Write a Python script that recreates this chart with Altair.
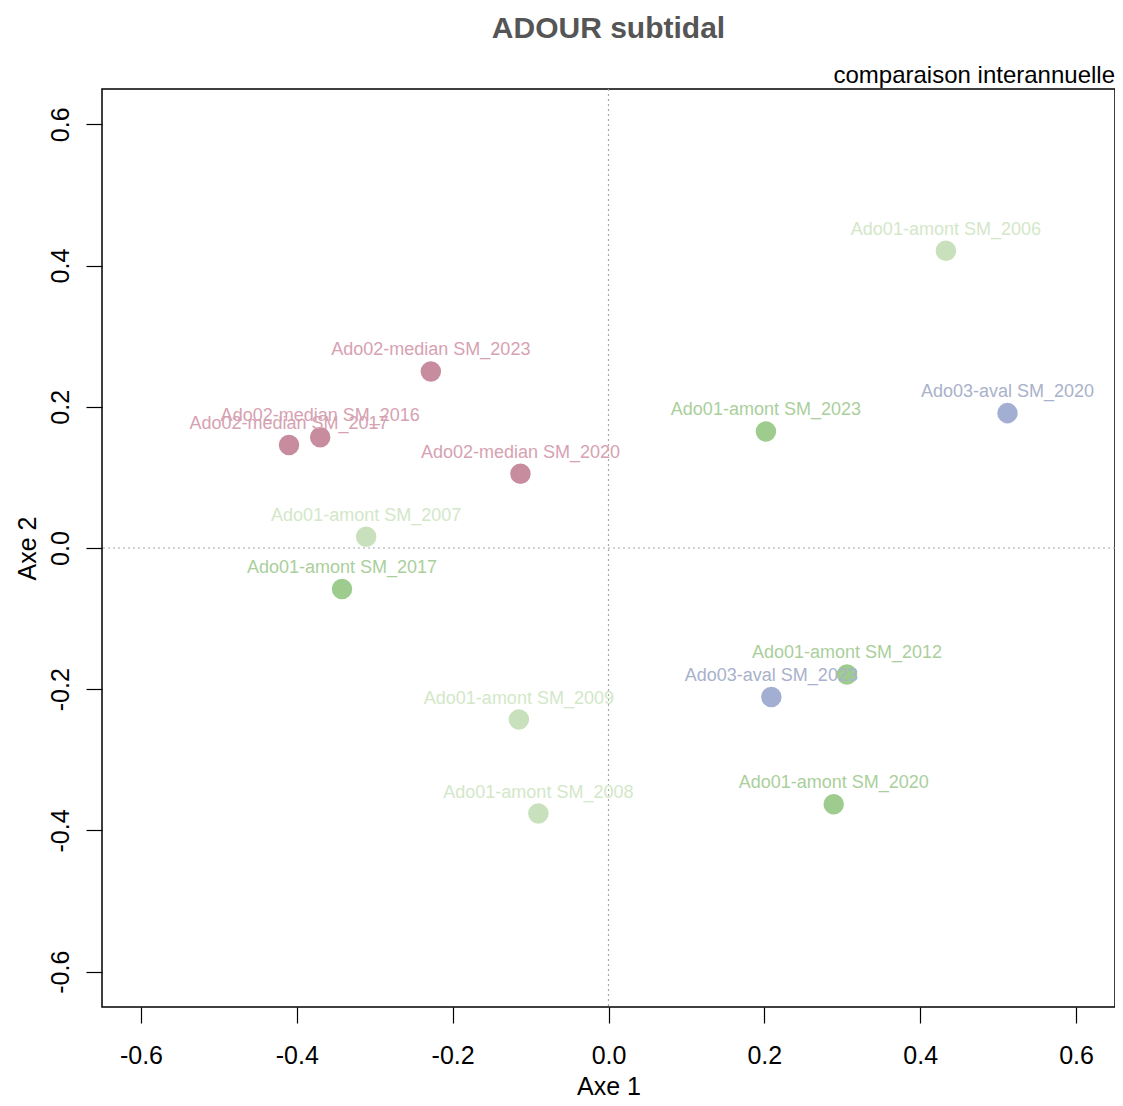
import altair as alt
import pandas as pd

labels = [
    "Ado01-amont SM_2006", "Ado03-aval SM_2020", "Ado01-amont SM_2023",
    "Ado02-median SM_2023", "Ado02-median SM_2016", "Ado02-median SM_2017",
    "Ado02-median SM_2020", "Ado01-amont SM_2007", "Ado01-amont SM_2017",
    "Ado01-amont SM_2012", "Ado03-aval SM_2023", "Ado01-amont SM_2009",
    "Ado01-amont SM_2008", "Ado01-amont SM_2020",
]
axe1 = [0.433, 0.512, 0.202, -0.228, -0.370, -0.410, -0.113, -0.311, -0.342,
        0.306, 0.209, -0.115, -0.090, 0.289]
axe2 = [0.421, 0.191, 0.165, 0.250, 0.157, 0.146, 0.105, 0.016, -0.058,
        -0.179, -0.211, -0.243, -0.376, -0.363]
groups = [
    "amont ancien", "aval", "amont récent", "median", "median", "median",
    "median", "amont ancien", "amont récent", "amont récent", "aval",
    "amont ancien", "amont ancien", "amont récent",
]

group_domain = ["amont ancien", "amont récent", "median", "aval"]
point_colors = ["#c8e1bc", "#9ecb8e", "#c88c9f", "#a2aed2"]
label_colors = ["#d3e7c9", "#aacf9c", "#d6a2b2", "#a9b1cb"]

df = pd.DataFrame({"label": labels, "axe1": axe1, "axe2": axe2, "groupe": groups})

W, H = 1013, 918
FONT = "Liberation Sans"
dom = [-0.65, 0.65]
ticks = [-0.6, -0.4, -0.2, 0.0, 0.2, 0.4, 0.6]
lab_expr = "(datum.value < 0 ? '-' : '') + format(abs(datum.value), '.1f')"

xenc = alt.X(
    "axe1:Q",
    scale=alt.Scale(domain=dom, nice=False, zero=False),
    axis=alt.Axis(
        values=ticks, labelExpr=lab_expr, title="Axe 1", grid=False, domain=False,
        tickSize=16, tickColor="black", tickWidth=1.2,
        labelFont=FONT, labelFontSize=25, labelColor="black", labelPadding=20,
        titleFont=FONT, titleFontSize=25, titleFontWeight="normal",
        titleColor="black", titlePadding=6, labelFlush=False,
    ),
)
yenc = alt.Y(
    "axe2:Q",
    scale=alt.Scale(domain=dom, nice=False, zero=False),
    axis=alt.Axis(
        values=ticks, labelExpr=lab_expr, title="Axe 2", grid=False, domain=False,
        tickSize=16, tickColor="black", tickWidth=1.2,
        labelFont=FONT, labelFontSize=25, labelColor="black", labelPadding=13,
        labelAngle=-90, labelAlign="center", labelBaseline="bottom",
        titleFont=FONT, titleFontSize=25, titleFontWeight="normal",
        titleColor="black", titlePadding=8, labelFlush=False,
    ),
)

base = alt.Chart(df)

vrule = alt.Chart(pd.DataFrame({"v": [0.0]})).mark_rule(
    color="#a8a8a8", strokeDash=[2, 3], strokeWidth=1.2
).encode(x=alt.X("v:Q", scale=alt.Scale(domain=dom, nice=False)))
hrule = alt.Chart(pd.DataFrame({"v": [0.0]})).mark_rule(
    color="#a8a8a8", strokeDash=[2, 3], strokeWidth=1.2
).encode(y=alt.Y("v:Q", scale=alt.Scale(domain=dom, nice=False)))

points = base.mark_circle(size=420, opacity=1).encode(
    x=xenc, y=yenc,
    color=alt.Color("groupe:N", scale=alt.Scale(domain=group_domain, range=point_colors), legend=None),
)

texts = base.mark_text(font=FONT, fontSize=18, dy=-21, baseline="middle", align="center").encode(
    x="axe1:Q", y="axe2:Q", text="label:N",
    color=alt.Color("groupe:N", scale=alt.Scale(domain=group_domain, range=label_colors), legend=None),
)

subtitle = alt.Chart(pd.DataFrame({"t": ["comparaison interannuelle"]})).mark_text(
    font=FONT, fontSize=24, align="right", baseline="alphabetic", color="black"
).encode(x=alt.value(W), y=alt.value(-6), text="t:N")

title = alt.Chart(pd.DataFrame({"t": ["ADOUR subtidal"]})).mark_text(
    font=FONT, fontSize=30, fontWeight="bold", align="center", baseline="alphabetic", color="#555555"
).encode(x=alt.value(W / 2), y=alt.value(-51), text="t:N")

chart = alt.layer(vrule, hrule, points, texts, subtitle, title).resolve_scale(
    color="independent"
).properties(
    width=W, height=H,
    autosize=alt.AutoSizeParams(type="none"),
    padding={"left": 94, "top": 81, "right": 0, "bottom": 91},
).configure(background="white").configure_view(stroke="black", strokeWidth=1.5)

chart.save("out.html", embed_options={"renderer": "svg", "actions": False})
